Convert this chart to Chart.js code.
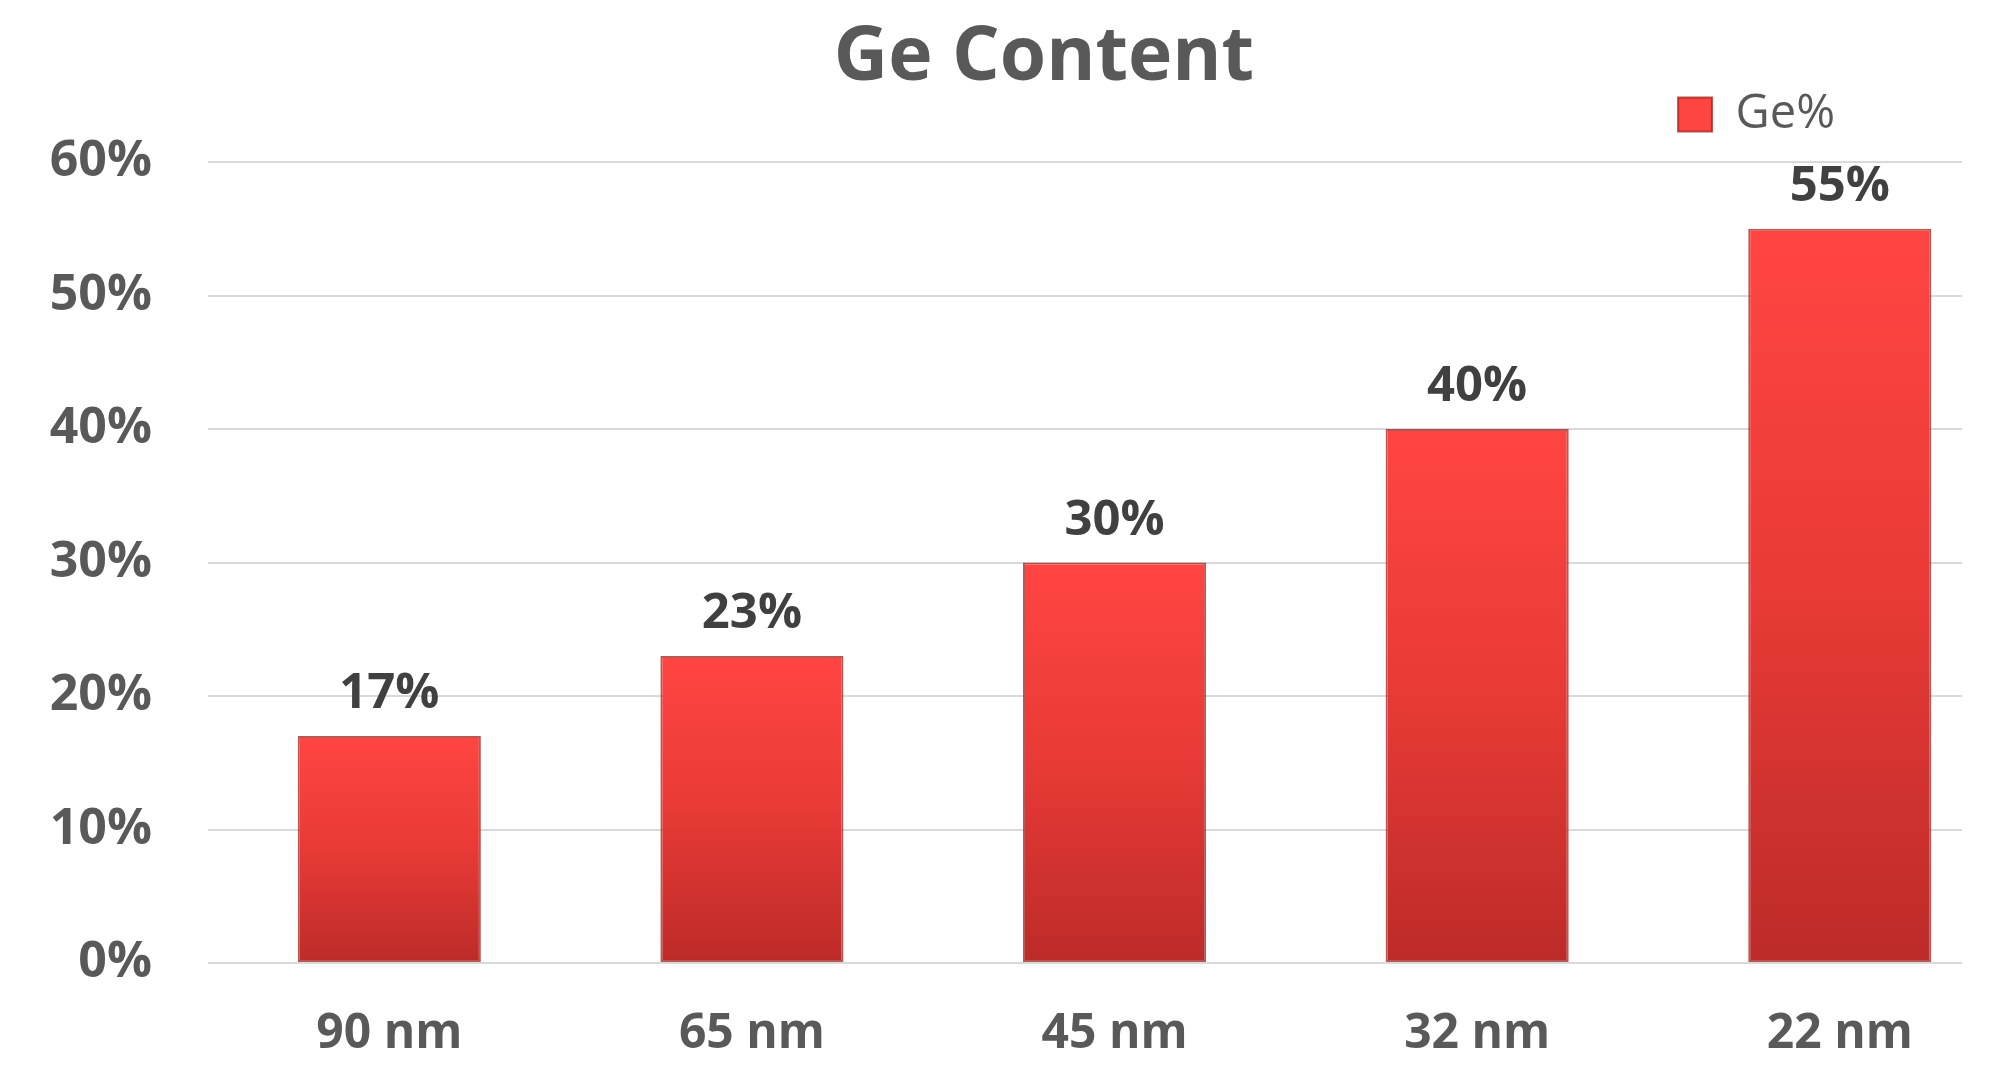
<!DOCTYPE html>
<html>
<head>
<meta charset="utf-8">
<title>Ge Content</title>
<script src="https://cdn.jsdelivr.net/npm/chart.js@4.4.1/dist/chart.umd.min.js"></script>
<style>
  html, body { margin: 0; padding: 0; background: #fff; overflow: hidden; }
  #wrap { width: 1990px; height: 1082px; }
</style>
</head>
<body>
<div id="wrap"><canvas id="chart"></canvas></div>
<script>
// data
const nodes = ['90 nm', '65 nm', '45 nm', '32 nm', '22 nm'];
const gePercent = [17, 23, 30, 40, 55];
const yTicks = [0, 10, 20, 30, 40, 50, 60];

const FONT = "'Open Sans', 'DejaVu Sans', sans-serif";
const GREY = '#595959';

// each bar gets its own top-to-bottom gradient
function barFill(ctx) {
    const chart = ctx.chart;
    const y = chart.scales.y;
    if (!y || !ctx.raw) return '#E0332F';
    const top = y.getPixelForValue(ctx.raw.y);
    const bottom = y.getPixelForValue(0);
    if (!isFinite(top) || !isFinite(bottom) || top === bottom) return '#E0332F';
    const g = chart.ctx.createLinearGradient(0, top, 0, bottom);
    g.addColorStop(0, '#FF4542');
    g.addColorStop(0.5, '#E83A36');
    g.addColorStop(1, '#BC2B28');
    return g;
}

// value labels above the bars
const valueLabels = {
    id: 'valueLabels',
    afterDatasetsDraw(chart) {
        const ctx = chart.ctx;
        const meta = chart.getDatasetMeta(0);
        ctx.save();
        ctx.font = 'bold 49px ' + FONT;
        ctx.fillStyle = '#404040';
        ctx.textAlign = 'center';
        ctx.textBaseline = 'alphabetic';
        meta.data.forEach((bar, i) => {
            ctx.fillText(gePercent[i] + '%', bar.x, bar.y - 28);
        });
        ctx.restore();
    }
};

// nudge title and legend to where they sit in the original
const placeBoxes = {
    id: 'placeBoxes',
    afterLayout(chart) {
        const t = chart.titleBlock;
        if (t) { t.left += 63; t.right += 63; }
        const lg = chart.legend;
        if (lg) {
            const dx = 1836 - lg.right;
            const dy = 90 - lg.top;
            lg.left += dx; lg.right += dx;
            lg.top += dy; lg.bottom += dy;
        }
    }
};

new Chart(document.getElementById('chart'), {
    type: 'bar',
    data: {
        datasets: [{
            label: 'Ge%',
            data: gePercent.map((v, i) => ({ x: i, y: v })),
            backgroundColor: barFill,
            borderColor: 'rgba(160, 32, 28, 0.75)',
            borderWidth: 2,
            borderSkipped: false,
            categoryPercentage: 1,
            barPercentage: 0.505
        }]
    },
    options: {
        responsive: true,
        maintainAspectRatio: false,
        devicePixelRatio: 1,
        animation: false,
        layout: { padding: { left: 0, right: 28, top: 0, bottom: 0 } },
        plugins: {
            title: {
                display: true,
                text: 'Ge Content',
                color: GREY,
                font: { family: FONT, size: 75, weight: 'bold' },
                padding: { top: 14, bottom: 0 }
            },
            legend: {
                display: true,
                position: 'top',
                align: 'end',
                labels: {
                    color: GREY,
                    font: { family: FONT, size: 47 },
                    boxWidth: 34,
                    boxHeight: 34,
                    padding: 1
                }
            },
            tooltip: { enabled: false }
        },
        scales: {
            x: {
                type: 'linear',
                offset: false,
                min: -0.5,
                max: 4.337,
                grid: { display: false, drawTicks: false },
                border: { display: false },
                afterBuildTicks(scale) {
                    scale.ticks = nodes.map((_, i) => ({ value: i }));
                },
                afterFit(scale) { scale.height = 119; },
                ticks: {
                    color: GREY,
                    font: { family: FONT, size: 48, weight: 'bold' },
                    padding: 43,
                    maxRotation: 0,
                    autoSkip: false,
                    callback: (v) => nodes[v]
                }
            },
            y: {
                min: 0,
                max: 60,
                afterBuildTicks(scale) {
                    scale.ticks = yTicks.map(v => ({ value: v }));
                },
                afterFit(scale) { scale.width = 208; },
                grid: { color: '#D9D9D9', lineWidth: 2, drawTicks: false },
                border: { display: false },
                ticks: {
                    color: GREY,
                    font: { family: FONT, size: 50, weight: 'bold' },
                    padding: 56,
                    callback: (v) => v + '%'
                }
            }
        }
    },
    plugins: [valueLabels, placeBoxes]
});
</script>
</body>
</html>
